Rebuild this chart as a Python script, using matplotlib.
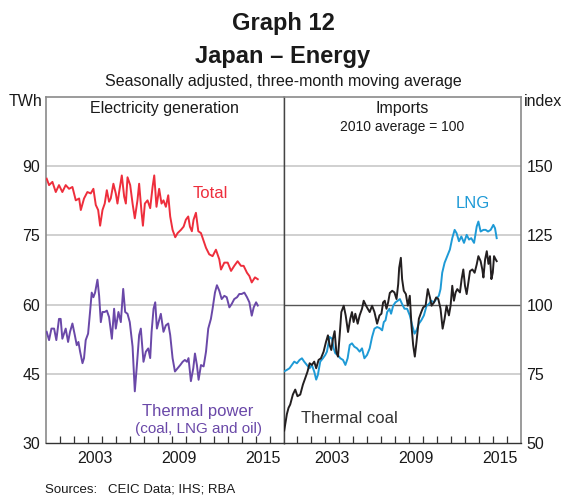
import matplotlib
matplotlib.use("Agg")
import matplotlib.pyplot as plt
import numpy as np

plt.rcParams['font.family'] = ['Liberation Sans', 'DejaVu Sans']

# ---------------- data ----------------
total_t = [2000.07, 2000.24, 2000.48, 2000.72, 2000.95, 2001.19, 2001.43, 2001.67, 2001.91, 2002.15,
           2002.39, 2002.51, 2002.74, 2002.98, 2003.22, 2003.41, 2003.58, 2003.75, 2003.89, 2004.06,
           2004.22, 2004.37, 2004.53, 2004.65, 2004.84, 2005.01, 2005.13, 2005.25, 2005.44, 2005.61,
           2005.73, 2005.85, 2006.04, 2006.21, 2006.37, 2006.56, 2006.68, 2006.85, 2006.95, 2007.09,
           2007.28, 2007.47, 2007.64, 2007.76, 2007.92, 2008.11, 2008.28, 2008.42, 2008.59, 2008.76,
           2008.90, 2009.07, 2009.26, 2009.43, 2009.67, 2009.86, 2010.02, 2010.19, 2010.31, 2010.45,
           2010.57, 2010.74, 2010.91, 2011.10, 2011.46, 2011.69, 2011.93, 2012.17, 2012.41, 2012.53,
           2012.77, 2013.01, 2013.25, 2013.48, 2013.72, 2013.96, 2014.15, 2014.39, 2014.56, 2014.73,
           2014.96, 2015.16]
total_v = [87.3, 85.9, 86.6, 84.4, 85.9, 84.4, 85.9, 85.1, 85.5, 82.6,
           83.0, 80.5, 83.0, 84.4, 84.1, 85.1, 81.6, 80.5, 77.1, 80.5,
           81.9, 84.8, 82.3, 83.0, 86.2, 84.1, 81.9, 84.4, 88.0, 83.4,
           81.9, 87.6, 85.9, 81.9, 78.7, 82.6, 86.2, 80.1, 77.1, 81.9,
           82.6, 80.9, 85.5, 88.0, 81.2, 85.1, 81.9, 82.6, 81.2, 83.7,
           79.1, 76.2, 74.6, 75.5, 76.2, 76.9, 78.4, 79.1, 76.9, 75.9,
           78.4, 79.9, 75.9, 75.5, 72.3, 70.9, 70.5, 71.9, 69.8, 67.6,
           69.1, 69.1, 67.3, 68.4, 69.4, 68.4, 68.4, 66.9, 66.2, 64.8,
           65.9, 65.5]

thermal_t = [2000.07, 2000.24, 2000.41, 2000.60, 2000.76, 2000.95, 2001.07, 2001.19, 2001.31, 2001.43,
             2001.60, 2001.74, 2001.91, 2002.08, 2002.22, 2002.34, 2002.46, 2002.63, 2002.74, 2002.86,
             2003.03, 2003.17, 2003.29, 2003.41, 2003.53, 2003.70, 2003.82, 2003.94, 2004.06, 2004.22,
             2004.37, 2004.53, 2004.73, 2004.89, 2005.01, 2005.20, 2005.37, 2005.54, 2005.68, 2005.85,
             2006.01, 2006.21, 2006.37, 2006.52, 2006.68, 2006.80, 2006.99, 2007.16, 2007.33, 2007.47,
             2007.57, 2007.71, 2007.83, 2007.95, 2008.07, 2008.23, 2008.42, 2008.59, 2008.76, 2008.90,
             2009.07, 2009.24, 2009.43, 2009.62, 2009.79, 2009.95, 2010.10, 2010.21, 2010.38, 2010.55,
             2010.67, 2010.81, 2010.93, 2011.10, 2011.29, 2011.46, 2011.62, 2011.81, 2011.93, 2012.10,
             2012.24, 2012.41, 2012.58, 2012.77, 2012.94, 2013.13, 2013.29, 2013.48, 2013.68, 2013.84,
             2014.01, 2014.20, 2014.39, 2014.56, 2014.73, 2014.87, 2015.04, 2015.16]
thermal_v = [54.1, 52.3, 54.8, 54.8, 52.3, 56.9, 56.9, 52.6, 53.7, 54.8,
             51.9, 54.1, 55.9, 53.4, 51.2, 51.9, 49.8, 47.3, 48.4, 52.3,
             53.7, 58.4, 62.6, 61.6, 62.6, 65.4, 61.9, 56.2, 58.4, 58.4,
             58.7, 57.3, 52.6, 59.1, 54.8, 58.4, 56.2, 63.4, 58.4, 58.0,
             56.2, 50.9, 41.2, 46.9, 53.4, 54.8, 47.6, 49.8, 50.5, 48.4,
             54.1, 59.1, 60.5, 54.8, 56.2, 58.0, 54.1, 55.5, 55.9, 53.4,
             48.4, 45.5, 46.2, 46.9, 47.6, 48.0, 47.6, 48.4, 43.4, 46.2,
             49.4, 46.9, 43.7, 46.9, 46.6, 49.8, 54.8, 56.9, 59.1, 62.6,
             64.2, 63.0, 61.2, 61.9, 61.6, 59.4, 60.1, 61.2, 61.6, 62.3,
             62.3, 62.6, 61.6, 60.5, 57.6, 59.4, 60.5, 59.8]

lng_t = [2000.02, 2000.24, 2000.43, 2000.60, 2000.77, 2000.96, 2001.15, 2001.32, 2001.48, 2001.67,
         2001.87, 2002.03, 2002.20, 2002.34, 2002.46, 2002.63, 2002.82, 2002.99, 2003.11, 2003.30,
         2003.47, 2003.59, 2003.71, 2003.88, 2004.07, 2004.26, 2004.43, 2004.59, 2004.74, 2004.90,
         2005.07, 2005.26, 2005.45, 2005.62, 2005.79, 2005.98, 2006.17, 2006.34, 2006.51, 2006.70,
         2006.89, 2007.06, 2007.18, 2007.30, 2007.42, 2007.58, 2007.70, 2007.85, 2008.01, 2008.18,
         2008.33, 2008.49, 2008.66, 2008.85, 2009.04, 2009.21, 2009.38, 2009.52, 2009.69, 2009.86,
         2010.05, 2010.24, 2010.41, 2010.57, 2010.77, 2010.93, 2011.12, 2011.24, 2011.36, 2011.53,
         2011.72, 2011.91, 2012.08, 2012.25, 2012.39, 2012.56, 2012.73, 2012.92, 2013.11, 2013.28,
         2013.44, 2013.64, 2013.83, 2013.95, 2014.11, 2014.31, 2014.47, 2014.64, 2014.83, 2015.02,
         2015.14, 2015.26]
lng_v = [75.8, 76.4, 77.0, 78.2, 79.4, 78.8, 80.0, 80.6, 79.4, 78.2,
         77.0, 78.2, 75.8, 72.9, 74.6, 79.4, 80.6, 81.8, 83.0, 88.3,
         87.7, 84.2, 82.4, 81.8, 80.6, 80.0, 78.2, 80.6, 85.4, 86.0,
         84.8, 84.2, 83.0, 84.2, 80.6, 81.8, 84.2, 88.3, 91.3, 91.9,
         91.5, 90.7, 93.7, 94.3, 97.3, 98.5, 96.7, 99.6, 100.8, 101.4,
         102.0, 100.2, 98.5, 98.5, 96.1, 92.5, 89.5, 90.7, 93.1, 94.3,
         96.1, 99.6, 100.2, 101.4, 100.8, 102.0, 103.2, 105.6, 111.5, 115.1,
         117.5, 119.9, 124.0, 127.0, 125.8, 122.9, 124.6, 122.3, 125.2, 123.5,
         124.0, 122.3, 128.2, 130.0, 126.4, 127.0, 127.0, 126.4, 127.0, 128.8,
         127.6, 124.0]

coal_t = [2000.05, 2000.24, 2000.36, 2000.48, 2000.67, 2000.84, 2001.00, 2001.20, 2001.39, 2001.56,
          2001.72, 2001.87, 2002.03, 2002.20, 2002.34, 2002.51, 2002.68, 2002.87, 2003.04, 2003.18,
          2003.30, 2003.42, 2003.54, 2003.66, 2003.78, 2003.90, 2004.02, 2004.14, 2004.31, 2004.45,
          2004.62, 2004.78, 2004.90, 2005.02, 2005.14, 2005.31, 2005.45, 2005.62, 2005.74, 2005.91,
          2006.03, 2006.17, 2006.34, 2006.51, 2006.70, 2006.87, 2007.01, 2007.13, 2007.25, 2007.37,
          2007.49, 2007.61, 2007.78, 2007.94, 2008.09, 2008.21, 2008.28, 2008.40, 2008.49, 2008.61,
          2008.76, 2008.90, 2009.04, 2009.16, 2009.28, 2009.40, 2009.52, 2009.69, 2009.86, 2010.00,
          2010.17, 2010.33, 2010.48, 2010.60, 2010.77, 2010.93, 2011.08, 2011.24, 2011.39, 2011.53,
          2011.67, 2011.84, 2011.96, 2012.08, 2012.20, 2012.32, 2012.44, 2012.63, 2012.75, 2012.87,
          2012.99, 2013.11, 2013.23, 2013.35, 2013.52, 2013.68, 2013.83, 2013.95, 2014.11, 2014.23,
          2014.31, 2014.43, 2014.55, 2014.67, 2014.78, 2014.88, 2014.98, 2015.07, 2015.19, 2015.26]
coal_v = [54.5, 60.4, 62.7, 63.9, 67.5, 69.3, 66.9, 67.5, 71.1, 73.5,
          75.8, 78.8, 78.2, 79.4, 77.0, 80.0, 80.6, 83.0, 86.5, 88.9,
          85.4, 83.6, 87.7, 90.4, 83.0, 81.2, 88.9, 97.3, 99.6, 96.1,
          90.1, 94.9, 97.3, 93.7, 96.7, 93.1, 96.1, 98.5, 101.4, 99.6,
          98.5, 97.3, 99.6, 97.3, 93.1, 96.1, 96.7, 100.8, 101.4, 98.5,
          100.8, 104.2, 105.0, 104.4, 102.0, 107.4, 113.3, 116.9, 109.2, 105.0,
          103.8, 99.6, 103.2, 92.5, 85.4, 81.2, 86.5, 94.9, 97.3, 99.0,
          99.6, 105.6, 102.6, 99.6, 100.8, 102.6, 102.0, 98.5, 91.3, 94.9,
          99.6, 96.1, 99.6, 106.8, 101.4, 104.4, 105.6, 104.4, 109.2, 112.7,
          106.8, 103.8, 107.9, 112.1, 112.7, 111.5, 114.5, 117.5, 115.7, 112.7,
          109.8, 116.3, 119.3, 114.7, 117.5, 109.2, 111.5, 117.5, 116.3, 115.7]

left_ticks = [30, 45, 60, 75, 90]
right_ticks = [50, 75, 100, 125, 150]
year_labels = ['2003', '2009', '2015']
year_label_pos = [2003.5, 2009.5, 2015.5]
year_ticks = list(range(2001, 2017))

# ---------------- style ----------------
RED = '#EE2E3C'
PURPLE = '#6A48A8'
BLUE = '#1E9AD6'
BLACK = '#231F20'
GRID = '#C8C8C8'
FRAME = '#8A8A8A'

W, H = 567, 496
fig = plt.figure(figsize=(W / 100, H / 100), dpi=100)

def px(x, y):
    return x / W, 1 - y / H

x0, x1, x2 = 45.7, 283.5, 521.0
ytop, ybot = 97.0, 443.0
axL = fig.add_axes([x0 / W, 1 - ybot / H, (x1 - x0) / W, (ybot - ytop) / H])
axR = fig.add_axes([x1 / W, 1 - ybot / H, (x2 - x1) / W, (ybot - ytop) / H])

axL.set_ylim(30, 105)
axR.set_ylim(50, 175)
for ax in (axL, axR):
    ax.set_xlim(2000, 2017)
    ax.set_xticks(year_ticks)
    ax.set_xticklabels([])
    ax.set_xticks(year_label_pos, minor=True)
    ax.set_xticklabels(year_labels, minor=True, fontsize=11.5, color='#1a1a1a')
    ax.tick_params(axis='x', which='major', direction='in', length=5, width=0.9, color='#333333')
    ax.tick_params(axis='x', which='minor', length=0, pad=6)
    for s in ax.spines.values():
        s.set_color(FRAME)
        s.set_linewidth(1.2)
    ax.spines['bottom'].set_color('#333333')
    ax.spines['bottom'].set_linewidth(1.0)

axL.spines['right'].set_color('#444444')
axL.spines['right'].set_linewidth(1.0)
axR.spines['left'].set_color('#444444')
axR.spines['left'].set_linewidth(1.0)

axL.set_yticks(left_ticks)
axL.tick_params(axis='y', length=0, pad=4, labelsize=11.5, labelcolor='#1a1a1a')
axR.yaxis.tick_right()
axR.set_yticks(right_ticks)
axR.tick_params(axis='y', length=0, pad=4, labelsize=11.5, labelcolor='#1a1a1a')

for v in left_ticks[1:]:
    axL.axhline(v, color=GRID, lw=1.2, zorder=1)
for v in right_ticks[1:]:
    if v == 100:
        axR.axhline(v, color='#555555', lw=1.0, zorder=1)
    else:
        axR.axhline(v, color=GRID, lw=1.2, zorder=1)

lw = 1.4
axL.plot(total_t, total_v, color=RED, lw=lw, zorder=3)
axL.plot(thermal_t, thermal_v, color=PURPLE, lw=lw, zorder=3)
axR.plot(lng_t, lng_v, color=BLUE, lw=lw, zorder=3)
axR.plot(coal_t, coal_v, color=BLACK, lw=lw, zorder=4)

# series labels
axL.text(2011.8, 84.0, 'Total', color=RED, fontsize=12, ha='center', va='center')
axL.text(2010.9, 36.8, 'Thermal power', color=PURPLE, fontsize=12, ha='center', va='center')
axL.text(2010.9, 33.1, '(coal, LNG and oil)', color=PURPLE, fontsize=11, ha='center', va='center')
axR.text(2013.57, 136.4, 'LNG', color=BLUE, fontsize=12, ha='center', va='center')
axR.text(2004.7, 58.9, 'Thermal coal', color='#333333', fontsize=12, ha='center', va='center')

# panel titles
fig.text(*px(164.5, 108), 'Electricity generation', fontsize=11.5, ha='center', va='center', color='#1a1a1a')
fig.text(*px(402.5, 108), 'Imports', fontsize=11.5, ha='center', va='center', color='#1a1a1a')
fig.text(*px(402.5, 127), '2010 average = 100', fontsize=10, ha='center', va='center', color='#1a1a1a')

# unit labels
fig.text(*px(42, 101), 'TWh', fontsize=11.5, ha='right', va='center', color='#1a1a1a')
fig.text(*px(524, 101), 'index', fontsize=11.5, ha='left', va='center', color='#1a1a1a')

# titles
fig.text(*px(283, 30), 'Graph 12', fontsize=17, fontweight='bold', ha='center', va='baseline', color='#1a1a1a')
fig.text(*px(283, 63), 'Japan \u2013 Energy', fontsize=17, fontweight='bold', ha='center', va='baseline', color='#1a1a1a')
fig.text(*px(283, 86), 'Seasonally adjusted, three-month moving average', fontsize=11.5, ha='center', va='baseline', color='#1a1a1a')

fig.text(*px(45, 489), 'Sources:   CEIC Data; IHS; RBA', fontsize=9.5, ha='left', va='center', color='#1a1a1a')

fig.savefig('out.png', dpi=100)
